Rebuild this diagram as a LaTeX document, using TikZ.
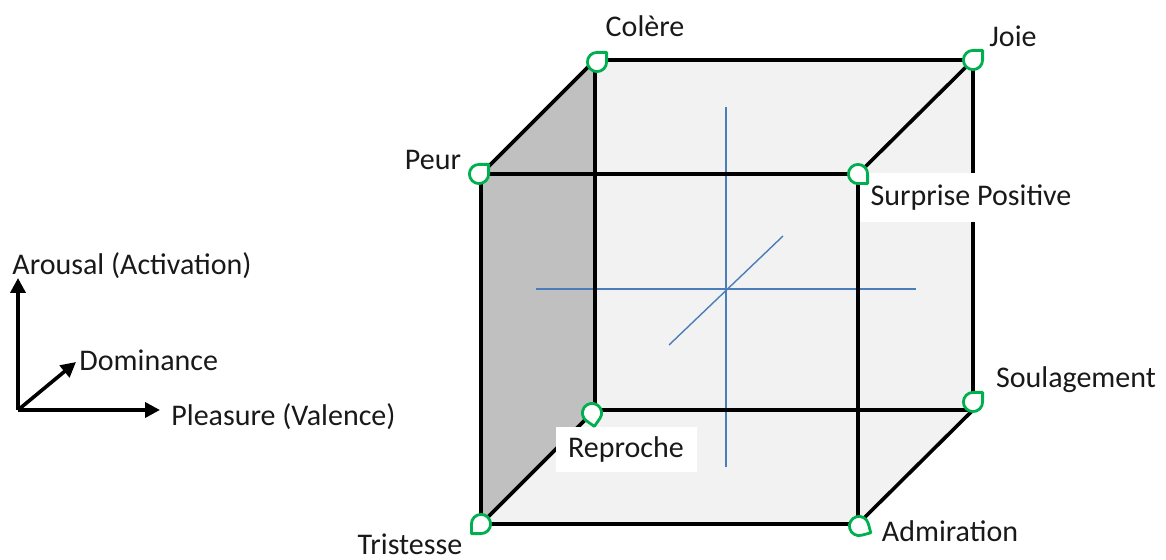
\documentclass[tikz,border=0pt]{standalone}
\usepackage{fontspec}
\setmainfont{Carlito}
\usetikzlibrary{arrows.meta}

\definecolor{facegray}{HTML}{C0C0C0}
\definecolor{backgray}{HTML}{F2F2F2}
\definecolor{axisblue}{HTML}{4A7EBB}
\definecolor{markgreen}{HTML}{00B050}

\tikzset{
  edge/.style={line width=1.8pt, black},
  axe/.style={line width=0.7pt, axisblue},
  pad/.style={line width=1.8pt, black, -{Triangle[length=7.5pt, width=7.5pt]}},
  lbl/.style={font=\fontsize{15}{18}\selectfont, inner sep=1pt, text=black!90},
  tear/.pic={\draw[line width=1.4pt, draw=markgreen, fill=white]
    (4.8pt,0pt) -- (4.8pt,4.8pt) -- (0pt,4.8pt)
    arc[start angle=90, end angle=360, radius=4.8pt] -- cycle;},
}

\begin{document}
\begin{tikzpicture}[x=0.5pt, y=-0.5pt, line join=round]
    \useasboundingbox (0,0) rectangle (1166,560);

    % sommets du cube
    \coordinate (A) at (481,524);  % Tristesse
    \coordinate (B) at (858,524);  % Admiration
    \coordinate (C) at (858,174);  % Surprise Positive
    \coordinate (D) at (481,174);  % Peur
    \coordinate (A1) at (595,410); % Reproche
    \coordinate (B1) at (973,410); % Soulagement
    \coordinate (C1) at (973,60);  % Joie
    \coordinate (D1) at (595,60);  % Colere

    % faces
    \fill[backgray] (A) -- (D) -- (D1) -- (C1) -- (B1) -- (B) -- cycle;
    \fill[facegray] (A) -- (D) -- (D1) -- (A1) -- cycle;

    % axes au centre
    \coordinate (O) at (726,289);
    \draw[axe] (536,289) -- (916,289);
    \draw[axe] (726,107) -- (726,467);
    \draw[axe] (669,345) -- (783,236);

    % aretes
    \draw[edge] (D1) -- (C1) -- (B1) -- (A1) -- cycle;
    \draw[edge] (A) -- (B) -- (C) -- (D) -- cycle;
    \draw[edge] (A) -- (A1);
    \draw[edge] (B) -- (B1);
    \draw[edge] (C) -- (C1);
    \draw[edge] (D) -- (D1);

    % etiquettes avec fond blanc
    \node[lbl, fill=white, minimum width=222*0.5pt, minimum height=49*0.5pt] (surprise) at (971,198) {Surprise Positive};
    \node[lbl, fill=white, minimum width=141*0.5pt, minimum height=45*0.5pt] (reproche) at (626,450) {Reproche};

    % marqueurs
    \pic at (597,62) {tear};
    \pic at (973,60) {tear};
    \pic at (479,174) {tear};
    \pic[rotate=-90] at (858,174) {tear};
    \pic at (973,402) {tear};
    \pic[rotate=-125] at (592,413) {tear};
    \pic[rotate=180] at (481,524) {tear};
    \pic[rotate=-75] at (859,526) {tear};

    \node[lbl] (colere) at (645,26) {Colère};
    \node[lbl] (joie) at (1013,36) {Joie};
    \node[lbl] (peur) at (433,160) {Peur};
    \node[lbl] (soulagement) at (1076,380) {Soulagement};
    \node[lbl, inner sep=0pt] (tristesse) at (410,544) {Tristesse};
    \node[lbl] (admiration) at (950,531) {Admiration};

    % repere
    \coordinate (P) at (18,410);
    \coordinate (Pa) at (18,278);
    \coordinate (Pv) at (160,410);
    \coordinate (Pd) at (76,362);
    \draw[pad] (P) -- (Pa);
    \draw[pad] (P) -- (Pv);
    \draw[pad] (P) -- (Pd);
    \node[lbl, anchor=west] (arousal) at (10,266) {Arousal (Activation)};
    \node[lbl, anchor=west] (dominance) at (77,360) {Dominance};
    \node[lbl, anchor=west] (pleasure) at (169,417) {Pleasure (Valence)};
\end{tikzpicture}
\end{document}
